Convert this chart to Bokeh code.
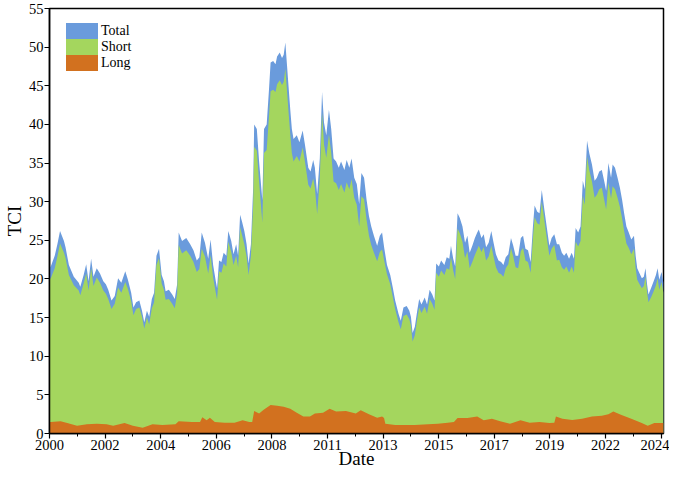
from bokeh.plotting import figure
from bokeh.models import FixedTicker, Legend, LegendItem
from bokeh.embed import file_html
from bokeh.resources import INLINE

# x = observation index; one labelled tick every 565 observations
obs = [0, 13, 53, 80, 107, 147, 163, 197, 247, 297,
       313, 347, 373, 397, 423, 447, 480, 513, 547, 573,
       597, 630, 663, 697, 730, 770, 797, 830, 853, 880,
       913, 940, 963, 990, 1013, 1040, 1063, 1087, 1113, 1140,
       1163, 1180, 1213, 1247, 1273, 1297, 1313, 1347, 1390, 1430,
       1463, 1497, 1523, 1547, 1580, 1613, 1637, 1663, 1690, 1703,
       1723, 1747, 1770, 1797, 1817, 1847, 1870, 1897, 1917, 1937,
       1957, 1980, 2003, 2023, 2047, 2070, 2080, 2107, 2130, 2163,
       2180, 2207, 2230, 2247, 2273, 2297, 2313, 2340, 2363, 2380,
       2397, 2413, 2430, 2447, 2463, 2480, 2513, 2540, 2573, 2597,
       2630, 2653, 2680, 2697, 2720, 2747, 2770, 2790, 2813, 2840,
       2863, 2887, 2913, 2940, 2963, 2997, 3020, 3047, 3070, 3097,
       3123, 3147, 3170, 3197, 3223, 3247, 3270, 3297, 3330, 3357,
       3380, 3403, 3430, 3463, 3490, 3513, 3547, 3570, 3597, 3630,
       3657, 3673, 3690, 3713, 3737, 3757, 3780, 3813, 3837, 3863,
       3890, 3913, 3930, 3957, 3980, 4013, 4037, 4063, 4080, 4103,
       4123, 4147, 4170, 4197, 4223, 4247, 4270, 4297, 4323, 4347,
       4363, 4390, 4413, 4437, 4463, 4490, 4513, 4537, 4563, 4590,
       4613, 4637, 4663, 4690, 4713, 4737, 4763, 4790, 4813, 4837,
       4863, 4890, 4913, 4930, 4957, 4980, 5003, 5030, 5057, 5080,
       5103, 5130, 5157, 5180, 5207, 5230, 5253, 5280, 5307, 5330,
       5347, 5373, 5397, 5420, 5440, 5463, 5487, 5513, 5540, 5563,
       5587, 5613, 5640, 5657, 5680, 5707, 5723, 5747, 5773, 5797,
       5820, 5840, 5863, 5887, 5913, 5940, 5957, 5973, 5997, 6020,
       6040, 6057, 6073, 6087, 6113, 6140, 6163, 6180, 6197, 6220,
       6240]

total = [21.5, 21.6, 23.0, 24.5, 26.2, 24.9, 24.1, 21.8, 20.3, 19.5,
         19.0, 20.5, 21.9, 19.7, 22.6, 20.3, 21.4, 20.7, 19.7, 19.3,
         18.6, 17.2, 17.8, 20.1, 19.5, 21.0, 19.9, 18.2, 16.3, 17.0,
         17.2, 15.9, 14.4, 15.9, 15.1, 17.4, 18.2, 23.0, 23.9, 20.5,
         19.7, 18.4, 18.6, 18.0, 17.4, 19.3, 26.0, 24.9, 25.3, 24.5,
         23.7, 22.4, 22.8, 26.0, 24.7, 22.6, 25.1, 21.8, 19.7, 18.8,
         22.4, 22.2, 23.4, 23.0, 26.2, 24.9, 23.2, 24.5, 23.0, 28.3,
         27.4, 26.2, 24.5, 22.0, 24.5, 31.8, 40.0, 39.4, 35.2, 30.2,
         39.4, 40.0, 44.4, 48.0, 48.2, 47.8, 48.8, 49.3, 48.6, 49.0,
         50.6, 47.8, 44.8, 41.9, 39.4, 38.1, 38.6, 37.7, 39.2, 37.3,
         34.4, 33.9, 35.4, 34.4, 31.0, 35.6, 44.2, 40.2, 38.6, 41.9,
         39.4, 35.6, 35.2, 34.4, 35.2, 34.1, 35.4, 34.4, 35.6, 33.1,
         32.3, 29.7, 33.7, 33.1, 30.2, 28.1, 26.8, 25.6, 24.3, 25.6,
         26.0, 23.9, 21.8, 20.5, 18.8, 17.2, 15.5, 14.6, 16.3, 16.5,
         15.9, 15.1, 13.0, 13.8, 15.9, 17.4, 16.7, 17.6, 16.7, 18.6,
         18.0, 17.2, 22.0, 21.6, 22.4, 21.8, 22.8, 22.6, 24.3, 22.6,
         21.6, 28.5, 27.9, 26.8, 24.7, 25.6, 23.4, 24.3, 25.3, 26.0,
         26.4, 25.3, 25.8, 24.1, 24.7, 26.2, 24.7, 23.2, 22.4, 22.2,
         21.8, 22.8, 23.2, 25.3, 24.3, 23.0, 23.0, 25.3, 25.6, 23.9,
         23.7, 22.2, 26.8, 29.5, 28.7, 28.5, 31.5, 28.9, 26.4, 24.3,
         25.3, 25.8, 24.5, 24.5, 23.4, 23.0, 23.4, 22.6, 23.4, 22.6,
         26.6, 26.0, 26.8, 32.7, 31.6, 37.9, 36.2, 34.8, 32.7, 33.1,
         33.9, 34.1, 32.5, 31.4, 35.0, 33.1, 34.8, 34.4, 33.1, 31.8,
         30.2, 28.5, 26.8, 26.0, 25.1, 25.6, 23.0, 21.4, 20.7, 20.1,
         20.3, 21.4, 19.3, 18.0, 18.8, 19.7, 20.5, 21.4, 19.9, 20.9,
         19.5]

short = [20.0, 20.1, 21.4, 22.9, 24.6, 23.4, 22.7, 20.5, 19.2, 18.5,
         17.9, 19.4, 20.7, 18.5, 21.4, 19.1, 20.2, 19.5, 18.5, 18.1,
         17.4, 16.1, 16.8, 18.9, 18.2, 19.6, 18.7, 17.1, 15.3, 16.1,
         16.3, 15.1, 13.6, 15.0, 14.1, 16.2, 17.0, 21.8, 22.7, 19.4,
         18.6, 17.3, 17.4, 16.8, 16.2, 18.1, 24.4, 23.3, 23.7, 23.0,
         22.2, 20.9, 21.3, 23.9, 22.9, 20.7, 23.1, 20.2, 18.2, 17.3,
         21.0, 20.8, 22.0, 21.6, 24.8, 23.5, 21.8, 23.0, 21.5, 26.7,
         25.7, 24.5, 22.9, 20.5, 23.0, 29.6, 37.1, 36.6, 32.6, 27.3,
         36.3, 36.7, 40.9, 44.3, 44.5, 44.2, 45.2, 45.7, 45.1, 45.5,
         47.2, 44.5, 41.5, 38.7, 36.3, 35.2, 35.9, 35.2, 37.0, 35.1,
         32.2, 31.7, 33.0, 31.8, 28.4, 33.0, 41.5, 37.4, 35.7, 38.7,
         36.3, 32.6, 32.4, 31.5, 32.3, 31.2, 32.5, 31.6, 32.9, 30.5,
         29.6, 26.8, 30.7, 30.3, 27.6, 25.6, 24.4, 23.4, 22.3, 23.5,
         23.8, 22.3, 20.6, 19.3, 17.6, 16.1, 14.4, 13.5, 15.2, 15.4,
         14.8, 14.0, 11.9, 12.7, 14.8, 16.3, 15.6, 16.4, 15.5, 17.4,
         16.8, 16.0, 20.8, 20.3, 21.1, 20.5, 21.4, 21.2, 22.8, 21.1,
         20.0, 26.5, 25.9, 24.8, 22.7, 23.6, 21.4, 22.2, 23.1, 23.8,
         24.3, 23.5, 24.1, 22.4, 22.9, 24.3, 22.9, 21.5, 20.8, 20.6,
         20.3, 21.4, 21.9, 24.0, 22.9, 21.5, 21.4, 23.6, 24.0, 22.4,
         22.2, 20.8, 25.3, 28.0, 27.2, 27.0, 30.0, 27.5, 25.0, 23.0,
         23.9, 24.4, 22.4, 22.5, 21.5, 21.2, 21.6, 20.8, 21.6, 20.8,
         24.8, 24.2, 24.9, 30.8, 29.6, 35.8, 34.0, 32.6, 30.5, 30.9,
         31.6, 31.8, 30.1, 29.0, 32.5, 30.4, 32.0, 31.6, 30.5, 29.3,
         27.8, 26.2, 24.6, 24.0, 23.2, 23.9, 21.4, 19.9, 19.3, 18.8,
         19.1, 20.3, 18.3, 17.0, 17.6, 18.4, 19.2, 20.1, 18.6, 19.6,
         18.2]

obs_long = [0, 13, 113, 180, 280, 380, 480, 580, 647, 763,
            847, 947, 1047, 1147, 1280, 1313, 1447, 1530, 1553, 1597,
            1630, 1680, 1780, 1880, 1963, 2030, 2060, 2080, 2130, 2180,
            2247, 2313, 2380, 2447, 2513, 2580, 2647, 2697, 2780, 2847,
            2913, 3013, 3113, 3163, 3247, 3330, 3380, 3400, 3413, 3513,
            3613, 3713, 3847, 3947, 4047, 4110, 4147, 4247, 4347, 4413,
            4497, 4580, 4680, 4787, 4880, 4980, 5080, 5130, 5147, 5213,
            5313, 5413, 5513, 5613, 5680, 5730, 5813, 5913, 6013, 6080,
            6147, 6240]

long_ = [1.5, 1.5, 1.6, 1.35, 1.0, 1.2, 1.25, 1.2, 1.0, 1.35,
         1.0, 0.75, 1.2, 1.1, 1.2, 1.6, 1.5, 1.5, 2.1, 1.7,
         2.05, 1.5, 1.4, 1.4, 1.7, 1.5, 1.5, 2.9, 2.6, 3.1,
         3.7, 3.6, 3.45, 3.2, 2.7, 2.2, 2.2, 2.6, 2.7, 3.2,
         2.85, 2.9, 2.6, 3.0, 2.5, 2.05, 2.2, 2.0, 1.26, 1.1,
         1.1, 1.1, 1.2, 1.26, 1.4, 1.5, 2.0, 2.0, 2.2, 1.7,
         1.9, 1.6, 1.26, 1.7, 1.4, 1.5, 1.35, 1.4, 2.2, 1.9,
         1.75, 1.9, 2.2, 2.3, 2.5, 2.85, 2.4, 1.9, 1.4, 1.0,
         1.35, 1.35]

series_names = ["Total", "Short", "Long"]
year_labels = ["2000", "2002", "2004", "2006", "2008", "2011",
               "2013", "2015", "2017", "2019", "2022", "2024"]
tick_step = 565
y_ticks = [0, 5, 10, 15, 20, 25, 30, 35, 40, 45, 50, 55]

C_TOTAL = "#6A9BDC"
C_SHORT = "#A4D65E"
C_LONG = "#D2711F"
FONT = "Liberation Serif"
NAN = float("nan")

p = figure(width=669, height=471, x_range=(0, 6240), y_range=(0, 55),
           output_backend="svg", toolbar_location=None,
           min_border_left=47, min_border_right=6, min_border_top=8,
           min_border_bottom=36)

r_total = p.varea(x=obs, y1=0, y2=total, fill_color=C_TOTAL)
r_short = p.varea(x=obs, y1=0, y2=short, fill_color=C_SHORT)
r_long = p.varea(x=obs_long, y1=0, y2=long_, fill_color=C_LONG)

# legend-only swatches (undefined extent, so nothing drawn in the plot);
# outlined in their own colour so the three legend patches touch
swatches = []
for c in (C_TOTAL, C_SHORT, C_LONG):
    swatches.append(p.quad(left=[NAN], right=[NAN], top=[NAN], bottom=[NAN],
                           fill_color=c, line_color=c, line_width=4,
                           line_join="miter"))

major = [i * tick_step for i in range(len(year_labels))]
minor = [m + tick_step / 2 for m in major[:-1]]
p.xaxis.ticker = FixedTicker(ticks=major, minor_ticks=minor)
p.xaxis.major_label_overrides = {m: lab for m, lab in zip(major, year_labels)}
p.yaxis.ticker = FixedTicker(ticks=y_ticks)

p.grid.visible = False
p.outline_line_color = "black"
p.outline_line_width = 1.5

for ax in (p.xaxis, p.yaxis):
    ax.axis_line_width = 1.5
    ax.axis_line_color = "black"
    ax.major_tick_line_color = "black"
    ax.major_tick_line_width = 1.2
    ax.minor_tick_line_color = "black"
    ax.major_tick_in = 0
    ax.major_tick_out = 5
    ax.minor_tick_in = 0
    ax.minor_tick_out = 3
    ax.major_label_text_font = FONT
    ax.major_label_text_font_size = "14.5px"
    ax.major_label_text_color = "black"
    ax.axis_label_text_font = FONT
    ax.axis_label_text_font_size = "19px"
    ax.axis_label_text_font_style = "normal"
    ax.axis_label_text_color = "black"
    ax.major_label_standoff = 1

p.xaxis.axis_label_standoff = -5
p.yaxis.axis_label_standoff = 1
p.xaxis.axis_label = "Date"
p.yaxis.axis_label = "TCI"
p.yaxis.minor_tick_line_color = None

legend = Legend(items=[LegendItem(label=n, renderers=[r])
                       for n, r in zip(series_names, swatches)],
                location="top_left", padding=0, margin=15, spacing=0,
                glyph_width=35, glyph_height=16, label_height=16,
                label_standoff=2, label_text_font=FONT,
                label_text_font_size="14px", label_text_color="black",
                border_line_color=None, background_fill_alpha=0)
p.add_layout(legend)

open("out.html", "w").write(file_html(p, INLINE))
